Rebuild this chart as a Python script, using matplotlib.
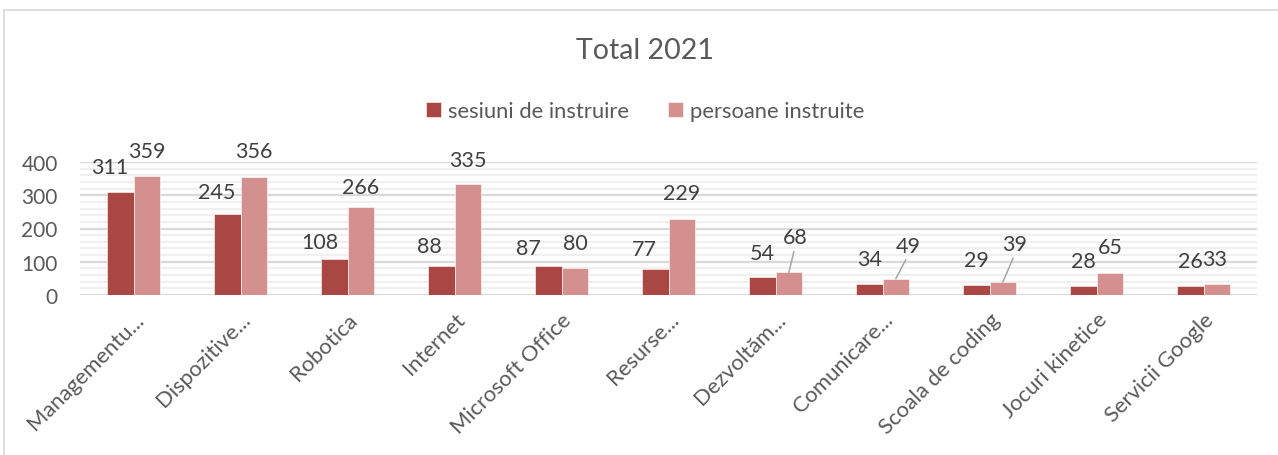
import numpy as np
import matplotlib
matplotlib.use("Agg")
import matplotlib.pyplot as plt
from matplotlib.patches import Rectangle

# data
categories = ["Managementu...", "Dispozitive...", "Robotica", "Internet",
              "Microsoft Office", "Resurse...", "Dezvoltăm...", "Comunicare...",
              "Scoala de coding", "Jocuri kinetice", "Servicii Google"]
sesiuni = [311, 245, 108, 88, 87, 77, 54, 34, 29, 28, 26]
persoane = [359, 356, 266, 335, 80, 229, 68, 49, 39, 65, 33]
series_names = ["sesiuni de instruire", "persoane instruite"]
title = "Total 2021"

# label offsets (pixels) from the bar top, as Excel placed them
off_sesiuni = [(-10, 25), (-10, 22), (-14, 17), (-12, 20), (-20, 18), (-11, 20),
               (0, 24), (0, 25), (0, 25), (0, 25), (0, 25)]
off_persoane = [(0, 25), (0, 26), (0, 20), (0, 24), (0, 25), (0, 26),
                (6, 35), (12, 33), (12, 38), (0, 26), (-2, 25)]
leader = [False] * 6 + [True, True, True, False, False]

DARK = "#A94745"
LIGHT = "#D3908F"
TXT = "#595959"
LBL = "#404040"

plt.rcParams["font.family"] = ["Lato", "DejaVu Sans"]

W, H = 1278, 456
fig = plt.figure(figsize=(W / 100, H / 100), dpi=100)
fig.patch.set_facecolor("white")

# chart frame
fig.patches.append(Rectangle((4 / W, -0.1), 1.2, (1 - 10.7 / H) + 0.1,
                             transform=fig.transFigure, fill=False,
                             edgecolor="#d9d9d9", linewidth=1.2))

ax_l, ax_r, ax_b, ax_t = 80, 1257, 296, 163
ax = fig.add_axes([ax_l / W, 1 - ax_b / H, (ax_r - ax_l) / W, (ax_b - ax_t) / H])

x = np.arange(len(categories))
w = 0.25
ax.bar(x - w / 2, sesiuni, w, color=DARK, edgecolor="white", linewidth=0.4,
       label=series_names[0], zorder=3)
ax.bar(x + w / 2, persoane, w, color=LIGHT, edgecolor="white", linewidth=0.4,
       label=series_names[1], zorder=3)

ax.set_xlim(-0.5, len(categories) - 0.5)
ax.set_ylim(0, 400)
ax.set_yticks(np.arange(0, 401, 100))
ax.set_yticks(np.arange(0, 401, 20), minor=True)
ax.grid(axis="y", which="major", color="#d9d9d9", linewidth=1.6, zorder=0)
ax.grid(axis="y", which="minor", color="#f0f0f0", linewidth=1.6, zorder=0)
for s in ax.spines.values():
    s.set_visible(False)

ax.tick_params(axis="y", which="both", length=0, pad=16, labelsize=15, labelcolor=TXT)
ax.tick_params(axis="x", length=0, pad=10, labelsize=15.8, labelcolor=TXT)
ax.set_xticks(x)
ax.set_xticklabels(categories, rotation=45, ha="right", va="top",
                   rotation_mode="anchor")

for i in range(len(categories)):
    ax.annotate(str(sesiuni[i]), xy=(x[i] - w / 2, sesiuni[i]),
                xytext=off_sesiuni[i], textcoords="offset pixels",
                ha="center", va="center", fontsize=15.5, color=LBL, zorder=4)
    props = None
    if leader[i]:
        props = dict(arrowstyle="-", color="#a6a6a6", lw=1.1,
                     relpos=(0.5, 0.0), shrinkA=1, shrinkB=0)
    ax.annotate(str(persoane[i]), xy=(x[i] + w / 2, persoane[i]),
                xytext=off_persoane[i], textcoords="offset pixels",
                ha="center", va="center", fontsize=15.5, color=LBL,
                arrowprops=props, zorder=4)

fig.text(645 / W, 1 - 51 / H, title, ha="center", va="center",
         fontsize=20.5, color=TXT)

fig.legend(*ax.get_legend_handles_labels(), loc="center",
           bbox_to_anchor=(645 / W, 1 - 112 / H), ncol=2, frameon=False,
           fontsize=15.8, labelcolor=TXT, handlelength=0.7, handleheight=0.7,
           handletextpad=0.3, columnspacing=1.8)

fig.savefig("out.png", dpi=100)
